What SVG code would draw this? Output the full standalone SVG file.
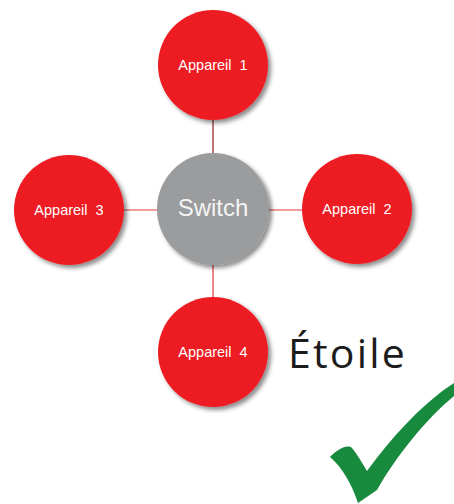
<svg xmlns="http://www.w3.org/2000/svg" width="454" height="504" viewBox="0 0 454 504">
<defs>
<filter id="sh" x="-20%" y="-20%" width="150%" height="150%">
<feDropShadow dx="3" dy="3" stdDeviation="2" flood-color="#000" flood-opacity="0.45"/>
</filter>
<style>
.dev{fill:#ed1c24;filter:url(#sh)}
.sw{fill:#9a9c9d;filter:url(#sh)}
.lbl{font-family:"Liberation Sans",Arial,sans-serif;font-size:14.5px;fill:#fff;text-anchor:middle;word-spacing:4px}
.swl{font-family:"Liberation Sans",Arial,sans-serif;font-size:24px;fill:#f4f4f4;text-anchor:middle}
.ln{stroke:#e0383c;stroke-width:1.2;fill:none}
</style>
</defs>
<rect width="454" height="504" fill="#fff"/>
<g id="connectors">
<line class="ln" x1="213" y1="119" x2="213" y2="155" style="stroke:#8e1c1f"/>
<line class="ln" x1="213" y1="264" x2="213" y2="298"/>
<line class="ln" x1="123" y1="210" x2="158" y2="210"/>
<line class="ln" x1="268" y1="210" x2="303" y2="210"/>
</g>
<g id="appareil1"><circle class="dev" cx="213" cy="65" r="55"/><text class="lbl" x="213" y="70">Appareil 1</text></g>
<g id="switch"><circle class="sw" cx="213" cy="209" r="56"/><text class="swl" x="213" y="216">Switch</text></g>
<g id="appareil3"><circle class="dev" cx="69" cy="210" r="55"/><text class="lbl" x="69" y="215">Appareil 3</text></g>
<g id="appareil2"><circle class="dev" cx="357" cy="209" r="55"/><text class="lbl" x="357" y="214">Appareil 2</text></g>
<g id="appareil4"><circle class="dev" cx="213" cy="352" r="55"/><text class="lbl" x="213" y="357">Appareil 4</text></g>
<text x="288" y="368" font-family="'Open Sans',Lato,sans-serif" font-size="41" letter-spacing="2.2" fill="#1c1c1c">Étoile</text>
<path d="M330,457 C338,449 347,444 352,448 C358,455 362,463 367,471 C390,440 420,405 454,383 L454,396 C425,420 395,458 377,490 L358,503 C352,485 343,468 330,457 Z" fill="#178a3e"/>
</svg>
